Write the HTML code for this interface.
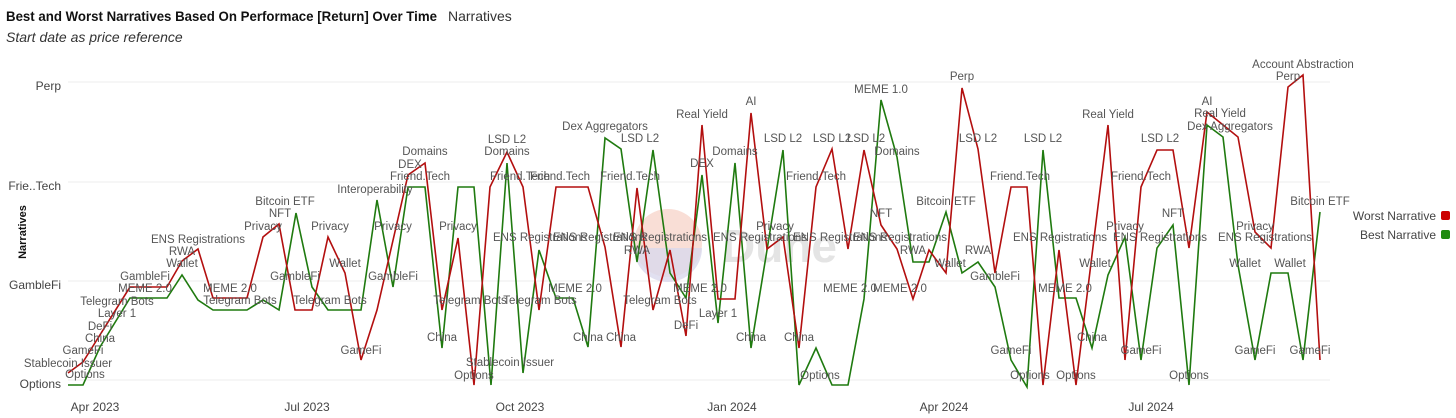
<!DOCTYPE html>
<html><head><meta charset="utf-8"><style>
html,body{margin:0;padding:0;background:#fff;width:1456px;height:418px;overflow:hidden}
svg{display:block;font-family:"Liberation Sans",sans-serif}
</style></head><body>
<svg width="1456" height="418" viewBox="0 0 1456 418" xmlns="http://www.w3.org/2000/svg">
<text x="6" y="21" font-size="14" font-weight="bold" fill="#111" textLength="431" lengthAdjust="spacingAndGlyphs">Best and Worst Narratives Based On Performace [Return] Over Time</text>
<text x="448" y="21" font-size="14" fill="#333">Narratives</text>
<text x="6" y="42" font-size="14" font-style="italic" fill="#333">Start date as price reference</text>
<g stroke="#ececec" stroke-width="1">
<line x1="68" y1="82" x2="1330" y2="82"/><line x1="68" y1="182" x2="1330" y2="182"/>
<line x1="68" y1="281" x2="1330" y2="281"/><line x1="68" y1="380" x2="1330" y2="380"/>
</g>
<g font-size="12" fill="#444" text-anchor="end">
<text x="61" y="90">Perp</text><text x="61" y="190">Frie..Tech</text>
<text x="61" y="289">GambleFi</text><text x="61" y="388">Options</text>
</g>
<text transform="translate(26,232) rotate(-90)" font-size="11" font-weight="bold" text-anchor="middle" fill="#111">Narratives</text>
<g font-size="12" fill="#444" text-anchor="middle">
<text x="95" y="411">Apr 2023</text><text x="307" y="411">Jul 2023</text><text x="520" y="411">Oct 2023</text>
<text x="732" y="411">Jan 2024</text><text x="944" y="411">Apr 2024</text><text x="1151" y="411">Jul 2024</text>
</g>
<circle cx="668" cy="243" r="34" fill="#f8d6cc" opacity="0.8"/>
<path d="M634,248 A34,34 0 0 0 702,248 Z" fill="#d9d8ec" opacity="0.8"/>
<text x="722" y="262" font-size="46" font-weight="bold" fill="#e4e4e4">Dune</text>
<polyline fill="none" stroke="#1f7a0f" stroke-width="1.6" points="68,385 83,385 100,347 130,298 167,298 182,275 198,300 213,310 247,310 263,300 279,310 296,213 312,287 328,310 361,310 377,200 393,287 408,187 425,187 442,348 458,187 474,187 491,385 507,163 523,373 539,250 556,298 573,298 588,347 605,138 621,149 637,262 653,150 670,273 686,298 702,175 718,323 735,163 751,348 767,250 783,150 799,385 816,348 832,385 848,385 864,299 881,100 897,157 913,262 929,262 946,212 962,273 978,262 995,287 1011,360 1027,387 1043,150 1059,298 1076,298 1092,348 1108,275 1125,237 1141,360 1157,248 1173,225 1189,385 1207,125 1223,137 1238,265 1255,360 1271,273 1288,273 1303,360 1320,212"/>
<polyline fill="none" stroke="#b30f0f" stroke-width="1.6" points="68,373 83,362 130,287 167,287 182,261 198,249 213,298 247,298 263,237 279,224 295,310 312,310 328,237 345,273 361,360 377,310 408,175 425,163 442,310 458,238 474,385 490,187 507,152 523,187 539,310 556,187 588,187 605,247 621,347 637,188 653,310 670,250 686,336 702,125 718,299 735,299 751,113 767,249 783,237 799,348 816,187 832,149 848,249 864,150 881,225 897,249 913,299 929,250 946,273 962,88 978,149 995,273 1011,187 1027,187 1043,385 1059,250 1076,385 1108,125 1125,360 1141,187 1157,150 1173,150 1189,248 1207,112 1238,137 1255,232 1271,248 1288,87 1303,75 1320,360"/>
<g font-size="11.5" fill="#555" text-anchor="middle">
<text x="85" y="378">Options</text><text x="68" y="367">Stablecoin Issuer</text><text x="83" y="354">GameFi</text>
<text x="100" y="342">China</text><text x="100" y="330">DeFi</text><text x="117" y="317">Layer 1</text>
<text x="117" y="305">Telegram Bots</text><text x="145" y="292">MEME 2.0</text><text x="145" y="280">GambleFi</text>
<text x="182" y="267">Wallet</text><text x="182" y="255">RWA</text><text x="198" y="243">ENS Registrations</text>
<text x="230" y="292">MEME 2.0</text><text x="240" y="304">Telegram Bots</text><text x="263" y="230">Privacy</text>
<text x="295" y="280">GambleFi</text><text x="330" y="230">Privacy</text><text x="345" y="267">Wallet</text>
<text x="330" y="304">Telegram Bots</text><text x="361" y="354">GameFi</text><text x="393" y="280">GambleFi</text>
<text x="393" y="230">Privacy</text><text x="375" y="193">Interoperability</text><text x="410" y="168">DEX</text>
<text x="425" y="155">Domains</text><text x="420" y="180">Friend.Tech</text><text x="458" y="230">Privacy</text>
<text x="442" y="341">China</text><text x="474" y="379">Options</text><text x="510" y="366">Stablecoin Issuer</text>
<text x="507" y="155">Domains</text><text x="507" y="143">LSD L2</text><text x="470" y="304">Telegram Bots</text>
<text x="540" y="241">ENS Registrations</text><text x="520" y="180">Friend.Tech</text><text x="560" y="180">Friend.Tech</text>
<text x="575" y="292">MEME 2.0</text><text x="540" y="304">Telegram Bots</text><text x="588" y="341">China</text>
<text x="621" y="341">China</text><text x="605" y="130">Dex Aggregators</text><text x="640" y="142">LSD L2</text>
<text x="630" y="180">Friend.Tech</text><text x="600" y="241">ENS Registrations</text><text x="637" y="254">RWA</text>
<text x="660" y="241">ENS Registrations</text><text x="660" y="304">Telegram Bots</text><text x="700" y="292">MEME 2.0</text>
<text x="686" y="329">DeFi</text><text x="718" y="317">Layer 1</text><text x="702" y="167">DEX</text>
<text x="702" y="118">Real Yield</text><text x="735" y="155">Domains</text><text x="751" y="105">AI</text>
<text x="751" y="341">China</text><text x="760" y="241">ENS Registrations</text><text x="775" y="230">Privacy</text>
<text x="783" y="142">LSD L2</text><text x="816" y="180">Friend.Tech</text><text x="799" y="341">China</text>
<text x="820" y="379">Options</text><text x="832" y="142">LSD L2</text><text x="866" y="142">LSD L2</text>
<text x="881" y="93">MEME 1.0</text><text x="897" y="155">Domains</text><text x="881" y="217">NFT</text>
<text x="840" y="241">ENS Registrations</text><text x="900" y="241">ENS Registrations</text><text x="900" y="292">MEME 2.0</text>
<text x="850" y="292">MEME 2.0</text><text x="913" y="254">RWA</text><text x="946" y="205">Bitcoin ETF</text>
<text x="962" y="80">Perp</text><text x="978" y="142">LSD L2</text><text x="950" y="267">Wallet</text>
<text x="978" y="254">RWA</text><text x="995" y="280">GambleFi</text><text x="1020" y="180">Friend.Tech</text>
<text x="1011" y="354">GameFi</text><text x="1030" y="379">Options</text><text x="1043" y="142">LSD L2</text>
<text x="1060" y="241">ENS Registrations</text><text x="1065" y="292">MEME 2.0</text><text x="1076" y="379">Options</text>
<text x="1092" y="341">China</text><text x="1108" y="118">Real Yield</text><text x="1095" y="267">Wallet</text>
<text x="1125" y="230">Privacy</text><text x="1141" y="354">GameFi</text><text x="1160" y="142">LSD L2</text>
<text x="1141" y="180">Friend.Tech</text><text x="1173" y="217">NFT</text><text x="1160" y="241">ENS Registrations</text>
<text x="1189" y="379">Options</text><text x="1207" y="105">AI</text><text x="1220" y="117">Real Yield</text>
<text x="1230" y="130">Dex Aggregators</text><text x="1255" y="230">Privacy</text><text x="1265" y="241">ENS Registrations</text>
<text x="1245" y="267">Wallet</text><text x="1290" y="267">Wallet</text><text x="1255" y="354">GameFi</text>
<text x="1310" y="354">GameFi</text><text x="1288" y="80">Perp</text><text x="1303" y="68">Account Abstraction</text>
<text x="1320" y="205">Bitcoin ETF</text><text x="285" y="205">Bitcoin ETF</text><text x="280" y="217">NFT</text>
</g>
<g font-size="12" fill="#444" text-anchor="end">
<text x="1436" y="220">Worst Narrative</text><text x="1436" y="239">Best Narrative</text>
</g>
<rect x="1441" y="211" width="9" height="9" rx="2" fill="#c00"/>
<rect x="1441" y="230" width="9" height="9" rx="2" fill="#1f8a10"/>
</svg>
</body></html>
